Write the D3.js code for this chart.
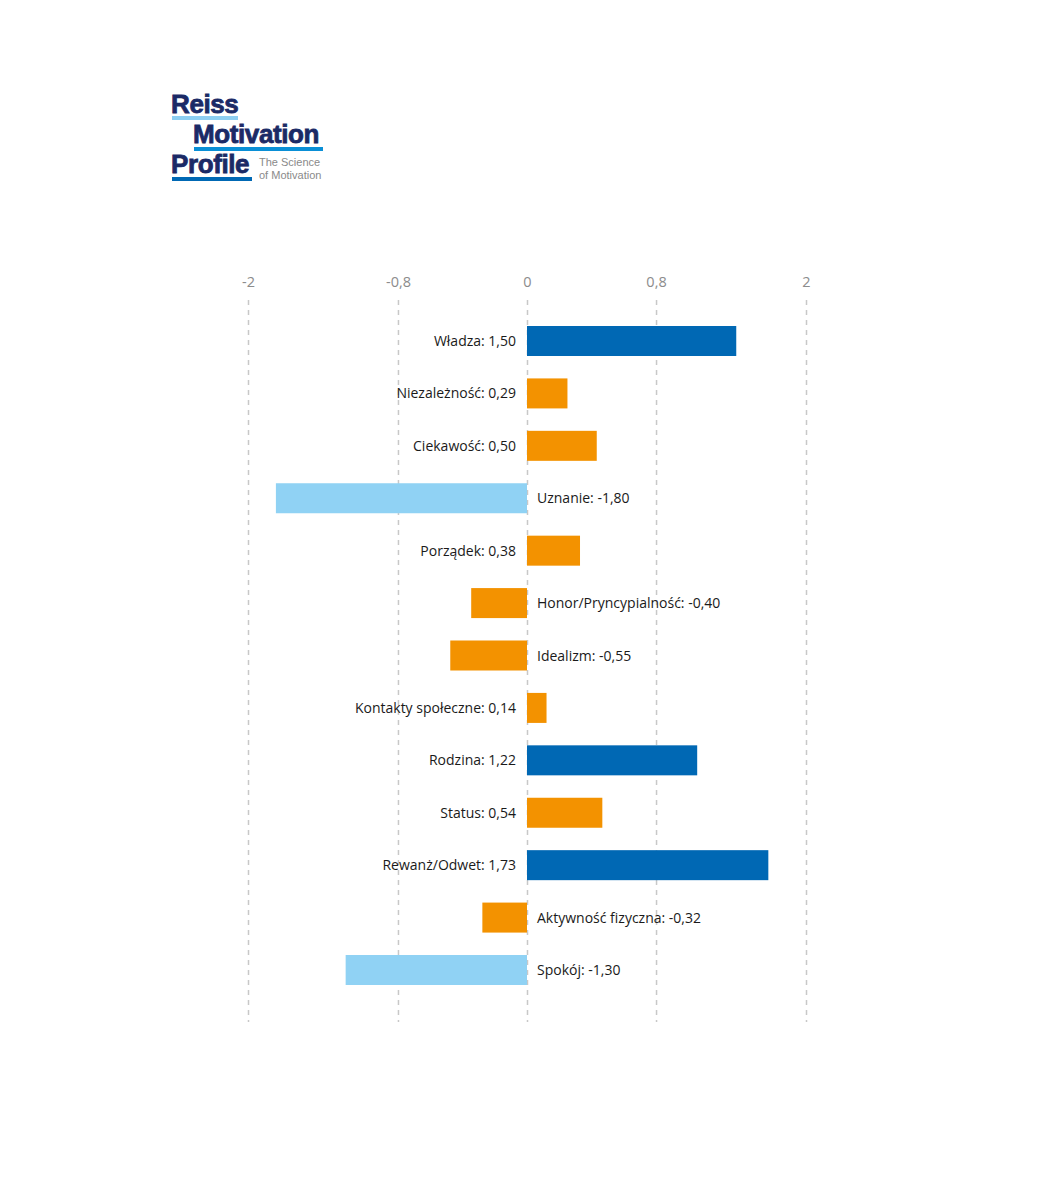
<!DOCTYPE html>
<html>
<head>
<meta charset="utf-8">
<script src="https://cdn.jsdelivr.net/npm/d3@7"></script>
<style>
  body { margin: 0; background: #fff; }
  svg text { font-family: "Open Sans", "Noto Sans", sans-serif; }
</style>
</head>
<body>
<div id="chart"></div>
<script>
// motivation names and scores
const categories = [
  'Władza', 'Niezależność', 'Ciekawość', 'Uznanie', 'Porządek',
  'Honor/Pryncypialność', 'Idealizm', 'Kontakty społeczne', 'Rodzina',
  'Status', 'Rewanż/Odwet', 'Aktywność fizyczna', 'Spokój'
];
const scores = [1.50, 0.29, 0.50, -1.80, 0.38, -0.40, -0.55, 0.14, 1.22, 0.54, 1.73, -0.32, -1.30];

// gridline positions and the labels printed above them
const tickValues = [-2, -0.925, 0, 0.925, 2];
const tickLabels = ['-2', '-0,8', '0', '0,8', '2'];

const DARK_BLUE = '#0068b4';
const ORANGE = '#f39200';
const LIGHT_BLUE = '#90d2f4';

function bar_color (v) {
  if (v >= 1) return DARK_BLUE;
  if (v <= -1) return LIGHT_BLUE;
  return ORANGE;
}

const fmt = (v) => v.toFixed(2).replace('.', ',');

const svg = d3.select('#chart')
  .append('svg')
  .attr('width', 1050)
  .attr('height', 1200);

// scales
const x = d3.scaleLinear().domain([-2, 2]).range([248, 806]);
const y = d3.scalePoint().domain(categories).range([341, 970]);
const barH = 30;

// logo
const logo = svg.append('g');
const NAVY = '#1b2a66';
function logo_word (txt, lx, ly) {
  logo.append('text').attr('x', lx).attr('y', ly).text(txt)
    .style('font-family', '"Liberation Sans", Arial, sans-serif')
    .style('font-weight', 'bold').style('font-size', '26px')
    .style('fill', NAVY).style('stroke', NAVY).style('stroke-width', 0.8)
    .style('letter-spacing', '-0.4px');
}
logo_word('Reiss', 171, 113);
logo.append('rect').attr('x', 172).attr('y', 116).attr('width', 66).attr('height', 4).attr('fill', '#8ecff2');
logo_word('Motivation', 193, 143);
logo.append('rect').attr('x', 194).attr('y', 147).attr('width', 129).attr('height', 4).attr('fill', '#0a8fd6');
logo_word('Profile', 171, 173);
logo.append('rect').attr('x', 172).attr('y', 177).attr('width', 80).attr('height', 4).attr('fill', '#0068b4');
logo.append('text').attr('x', 259).attr('y', 166).text('The Science')
  .style('font-family', '"Liberation Sans", Arial, sans-serif')
  .style('font-size', '11px').style('fill', '#8a8a8a');
logo.append('text').attr('x', 259).attr('y', 179).text('of Motivation')
  .style('font-family', '"Liberation Sans", Arial, sans-serif')
  .style('font-size', '11px').style('fill', '#8a8a8a');

// Add the top axis with dashed grid
const axis = svg.append('g')
  .attr('transform', 'translate(0, 300)')
  .call(d3.axisTop(x)
    .tickValues(tickValues)
    .tickFormat((d, i) => tickLabels[i])
    .tickSize(-722)
    .tickPadding(13));

axis.select('.domain').remove();
axis.selectAll('line')
  .attr('stroke', '#c8c8c8')
  .attr('stroke-width', 1.5)
  .attr('stroke-dasharray', '5,5');
axis.selectAll('text')
  .attr('fill', '#8c8c8c')
  .style('font-size', '14.5px');

// bars
svg.append('g')
  .selectAll('rect')
  .data(scores)
  .join('rect')
  .attr('x', (d) => Math.min(x(0), x(d)))
  .attr('y', (d, i) => y(categories[i]) - barH / 2)
  .attr('width', (d) => Math.abs(x(d) - x(0)))
  .attr('height', barH)
  .attr('fill', (d) => bar_color(d));

// labels
svg.append('g')
  .selectAll('text')
  .data(scores)
  .join('text')
  .attr('x', (d) => d >= 0 ? x(0) - 11 : x(0) + 10)
  .attr('y', (d, i) => y(categories[i]) + 5)
  .attr('text-anchor', (d) => d >= 0 ? 'end' : 'start')
  .style('font-size', '14px')
  .style('fill', '#1a1a1a')
  .text((d, i) => `${categories[i]}: ${fmt(d)}`);
</script>
</body>
</html>
